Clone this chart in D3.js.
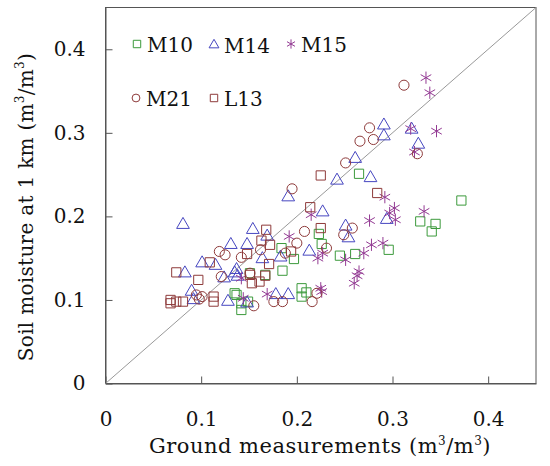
<!DOCTYPE html>
<html>
<head>
<meta charset="utf-8">
<script src="https://cdn.jsdelivr.net/npm/d3@7"></script>
<style>
  body { margin: 0; background: #fff; }
  text { font-family: "DejaVu Serif", serif; }
</style>
</head>
<body>
<div id="chart"></div>
<script>
// ground measurement (x) vs 1 km soil moisture (y), per site
const m10X = [0.265, 0.372, 0.329, 0.345, 0.341, 0.223, 0.226, 0.245, 0.261, 0.296, 0.197, 0.184, 0.185, 0.151, 0.167, 0.135, 0.137, 0.142, 0.142, 0.149, 0.205, 0.210, 0.205];
const m10Y = [0.251, 0.219, 0.194, 0.191, 0.182, 0.179, 0.167, 0.153, 0.155, 0.160, 0.149, 0.162, 0.135, 0.132, 0.130, 0.108, 0.106, 0.096, 0.088, 0.098, 0.114, 0.109, 0.104];

const m14X = [0.291, 0.320, 0.291, 0.327, 0.261, 0.277, 0.242, 0.191, 0.227, 0.294, 0.154, 0.169, 0.251, 0.254, 0.213, 0.183, 0.164, 0.148, 0.131, 0.115, 0.101, 0.124, 0.137, 0.138, 0.128, 0.148, 0.178, 0.191, 0.081, 0.083, 0.090, 0.092, 0.135];
const m14Y = [0.309, 0.304, 0.296, 0.286, 0.269, 0.246, 0.243, 0.223, 0.205, 0.196, 0.184, 0.176, 0.188, 0.174, 0.158, 0.151, 0.149, 0.166, 0.166, 0.141, 0.144, 0.126, 0.136, 0.128, 0.098, 0.096, 0.106, 0.106, 0.190, 0.132, 0.110, 0.100, 0.132];

const m15X = [0.335, 0.339, 0.319, 0.346, 0.323, 0.292, 0.302, 0.297, 0.303, 0.333, 0.215, 0.276, 0.192, 0.222, 0.227, 0.251, 0.270, 0.278, 0.290, 0.265, 0.263, 0.260, 0.142, 0.144, 0.169, 0.225, 0.226];
const m15Y = [0.366, 0.348, 0.305, 0.302, 0.277, 0.223, 0.210, 0.204, 0.196, 0.206, 0.202, 0.195, 0.176, 0.150, 0.156, 0.148, 0.156, 0.166, 0.168, 0.134, 0.129, 0.120, 0.126, 0.102, 0.107, 0.114, 0.110];

const m21X = [0.312, 0.276, 0.266, 0.280, 0.326, 0.251, 0.195, 0.258, 0.249, 0.208, 0.200, 0.231, 0.188, 0.162, 0.142, 0.119, 0.125, 0.121, 0.101, 0.095, 0.098, 0.155, 0.176, 0.185, 0.216, 0.221, 0.151];
const m21Y = [0.357, 0.306, 0.290, 0.292, 0.275, 0.264, 0.233, 0.186, 0.178, 0.182, 0.168, 0.162, 0.156, 0.160, 0.151, 0.158, 0.154, 0.128, 0.104, 0.106, 0.101, 0.093, 0.098, 0.098, 0.098, 0.108, 0.132];

const l13X = [0.225, 0.284, 0.214, 0.168, 0.163, 0.172, 0.225, 0.194, 0.171, 0.148, 0.109, 0.151, 0.161, 0.153, 0.167, 0.113, 0.113, 0.074, 0.097, 0.068, 0.068, 0.074, 0.081];
const l13Y = [0.249, 0.228, 0.211, 0.184, 0.171, 0.166, 0.186, 0.158, 0.143, 0.155, 0.145, 0.130, 0.122, 0.120, 0.129, 0.104, 0.098, 0.133, 0.124, 0.100, 0.096, 0.098, 0.098];

const xTicks = [0, 0.1, 0.2, 0.3, 0.4],
  yTicks = [0, 0.1, 0.2, 0.3, 0.4];

const series = [
  { name: "M10", xs: m10X, ys: m10Y, shape: d3.symbolSquare, size: 85, legSize: 55, color: "#3c9a3c" },
  { name: "M14", xs: m14X, ys: m14Y, shape: d3.symbolTriangle, size: 70, legSize: 42, color: "#4646c0" },
  { name: "M15", xs: m15X, ys: m15Y, shape: d3.symbolAsterisk, size: 105, legSize: 60, color: "#933a93" },
  { name: "M21", xs: m21X, ys: m21Y, shape: d3.symbolCircle, size: 80, legSize: 48, color: "#8e3a3a" },
  { name: "L13", xs: l13X, ys: l13Y, shape: d3.symbolSquare, size: 85, legSize: 55, color: "#8e3a3a" }
];

const W = 550, H = 466;
const margin = { left: 105.5, right: 14, top: 7.5, bottom: 82.5 },
  width = W - margin.left - margin.right,
  height = H - margin.top - margin.bottom;

const svg = d3.select("#chart").append("svg").attr("width", W).attr("height", H);
const g = svg.append("g").attr("transform", "translate(" + margin.left + "," + margin.top + ")");

const x = d3.scaleLinear().domain([0, 0.45]).range([0, width]);
const y = d3.scaleLinear().domain([0, 0.45]).range([height, 0]);

const fmt = d => (d === 0 ? "0" : d3.format(".1f")(d));

//x axis
const xAxis = g.append("g")
  .attr("transform", "translate(0," + height + ")")
  .call(d3.axisBottom(x).tickValues(xTicks).tickSize(-7).tickSizeOuter(0).tickPadding(28).tickFormat(fmt));

//y axis
const yAxis = g.append("g")
  .call(d3.axisLeft(y).tickValues(yTicks).tickSize(-7).tickSizeOuter(0).tickPadding(20).tickFormat(fmt));

[xAxis, yAxis].forEach(a => {
  a.selectAll("text").style("font-size", "20px").attr("fill", "#111").style("font-family", "DejaVu Serif, serif");
  a.selectAll("line").attr("stroke", "#555");
  a.select(".domain").attr("stroke", "#555");
});

//frame
g.append("rect")
  .attr("width", width)
  .attr("height", height)
  .attr("fill", "none")
  .attr("stroke", "#555")
  .attr("stroke-width", 1);

//1:1 line
g.append("line")
  .attr("x1", x(0)).attr("y1", y(0))
  .attr("x2", x(0.45)).attr("y2", y(0.45))
  .attr("stroke", "#999")
  .attr("stroke-width", 1);

//points
series.forEach(s => {
  const pts = s.xs.map((v, i) => [v, s.ys[i]]);
  g.append("g")
    .selectAll("path")
    .data(pts)
    .enter()
    .append("path")
    .attr("transform", d => "translate(" + x(d[0]) + "," + y(d[1]) + ")")
    .attr("d", d3.symbol().type(s.shape).size(s.size))
    .attr("fill", "none")
    .attr("stroke", s.color)
    .attr("stroke-width", 1);
});

//legend
const legPos = [[137, 44], [214, 45], [291, 44], [136, 98], [214, 98]];
series.forEach((s, i) => {
  const p = legPos[i];
  svg.append("path")
    .attr("transform", "translate(" + p[0] + "," + p[1] + ")")
    .attr("d", d3.symbol().type(s.shape).size(s.legSize))
    .attr("fill", "none")
    .attr("stroke", s.color)
    .attr("stroke-width", 1);
  svg.append("text")
    .attr("x", p[0] + 10)
    .attr("y", p[1] + 8)
    .style("font-size", "20px")
    .attr("fill", "#111")
    .text(s.name);
});

//axis titles
const xt = svg.append("text")
  .attr("x", 320)
  .attr("y", 453)
  .attr("text-anchor", "middle")
  .style("font-size", "21px")
  .style("letter-spacing", "0.5px")
  .attr("fill", "#111");
xt.append("tspan").text("Ground measurements (m");
xt.append("tspan").attr("dy", -8).style("font-size", "12px").text("3");
xt.append("tspan").attr("dy", 8).text("/m");
xt.append("tspan").attr("dy", -8).style("font-size", "12px").text("3");
xt.append("tspan").attr("dy", 8).text(")");

const yt = svg.append("text")
  .attr("transform", "translate(33,207) rotate(-90)")
  .attr("text-anchor", "middle")
  .style("font-size", "20px")
  .style("letter-spacing", "0.3px")
  .attr("fill", "#111");
yt.append("tspan").text("Soil moisture at 1 km (m");
yt.append("tspan").attr("dy", -9).style("font-size", "12px").text("3");
yt.append("tspan").attr("dy", 9).text("/m");
yt.append("tspan").attr("dy", -9).style("font-size", "12px").text("3");
yt.append("tspan").attr("dy", 9).text(")");
</script>
</body>
</html>
